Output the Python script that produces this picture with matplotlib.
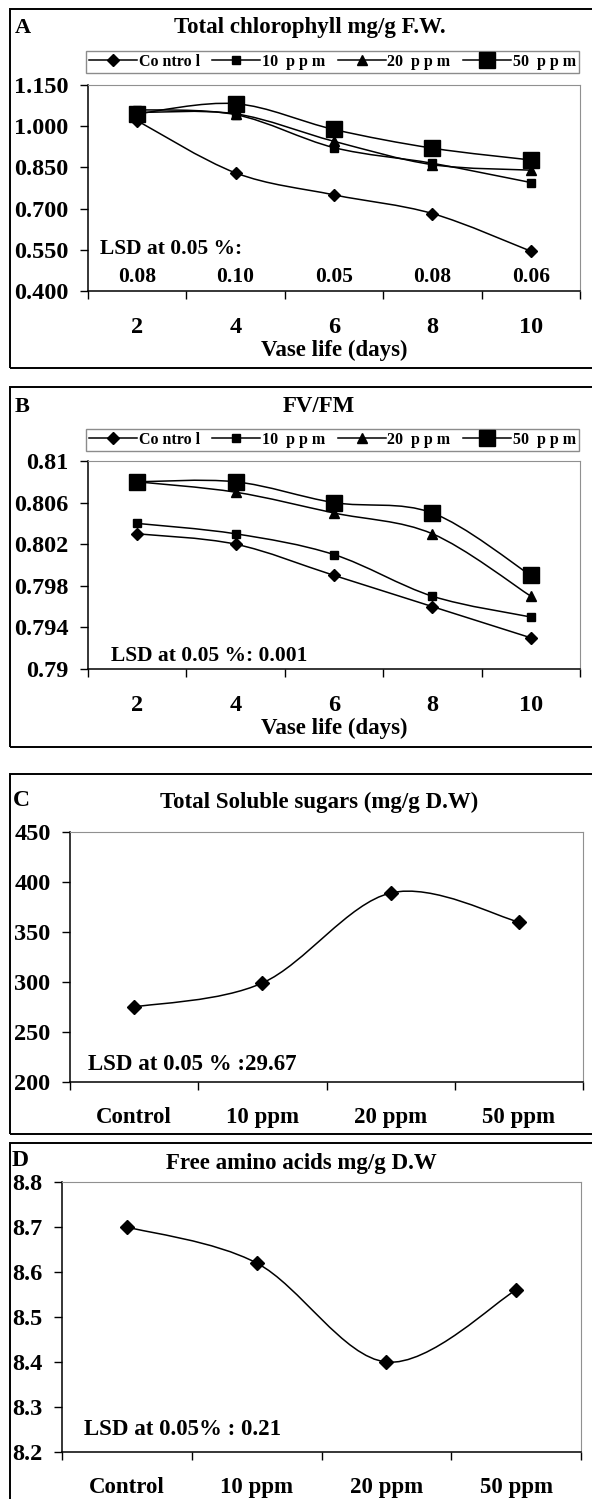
import numpy as np
import matplotlib
matplotlib.use("Agg")
import matplotlib.pyplot as plt
from matplotlib.path import Path
from matplotlib.patches import PathPatch, Rectangle
from matplotlib.lines import Line2D

plt.rcParams['font.family'] = ['Liberation Serif', 'DejaVu Serif']
plt.rcParams['font.weight'] = 'bold'

# --- data ---
days = ['2', '4', '6', '8', '10']
treatments = ['Control', '10 ppm', '20 ppm', '50 ppm']

chl_control = [1.020, 0.830, 0.750, 0.682, 0.545]
chl_10 = [1.060, 1.042, 0.922, 0.865, 0.795]
chl_20 = [1.050, 1.045, 0.945, 0.860, 0.840]
chl_50 = [1.045, 1.082, 0.988, 0.920, 0.877]
chl_lsd = ['0.08', '0.10', '0.05', '0.08', '0.06']

fv_control = [0.803, 0.802, 0.799, 0.796, 0.793]
fv_10 = [0.804, 0.803, 0.801, 0.797, 0.795]
fv_20 = [0.808, 0.807, 0.805, 0.803, 0.797]
fv_50 = [0.808, 0.808, 0.806, 0.805, 0.799]

sugars = [275, 299, 389, 360]
amino = [8.70, 8.62, 8.40, 8.56]

W, H = 592, 1499
fig = plt.figure(figsize=(W / 100, H / 100), dpi=100)

TICK_FS = 17.5
CAT_FS = 16.5


def px_axes(left, top, right, bottom):
    return fig.add_axes([left / W, 1 - bottom / H, (right - left) / W, (bottom - top) / H])


def panel_box(top, bottom):
    fig.patches.append(Rectangle((10 / W, 1 - bottom / H), (W + 5 - 10) / W, (bottom - top) / H,
                                 transform=fig.transFigure, fill=False, ec='black', lw=1.4))


def smooth_line(ax, y, color='black', lw=1.1):
    # Excel-like smoothed line: cubic bezier through the points
    x = np.arange(len(y), dtype=float)
    y = np.asarray(y, dtype=float)
    pts = np.column_stack([x, y])
    verts = [pts[0]]
    codes = [Path.MOVETO]
    n = len(pts)
    for i in range(n - 1):
        p0 = pts[max(i - 1, 0)]
        p1 = pts[i]
        p2 = pts[i + 1]
        p3 = pts[min(i + 2, n - 1)]
        c1 = p1 + (p2 - p0) / 6.0
        c2 = p2 - (p3 - p1) / 6.0
        verts += [c1, c2, p2]
        codes += [Path.CURVE4] * 3
    ax.add_patch(PathPatch(Path(verts, codes), fill=False, ec=color, lw=lw))


def style_axes(ax, cats, yticks, ylabels, x_fs, pad):
    n = len(cats)
    ax.set_xlim(-0.5, n - 0.5)
    ax.set_xticks(np.arange(n + 1) - 0.5)
    ax.set_xticklabels([''] * (n + 1))
    ax.set_xticks(np.arange(n), minor=True)
    ax.set_xticklabels(cats, minor=True, fontsize=x_fs, fontweight='bold')
    ax.tick_params(axis='x', which='major', direction='out', length=6, width=1)
    ax.tick_params(axis='x', which='minor', length=0, pad=pad)
    ax.set_ylim(yticks[0], yticks[-1])
    ax.set_yticks(yticks)
    ax.set_yticklabels(ylabels, fontsize=TICK_FS, fontweight='bold')
    ax.tick_params(axis='y', direction='out', length=6, width=1, pad=8)
    for s in ['top', 'right']:
        ax.spines[s].set_color('#909090')
    for s in ['left', 'bottom']:
        ax.spines[s].set_color('black')
        ax.spines[s].set_linewidth(1.1)


series_style = [
    ('Co ntro l', 'D', 6),
    ('10  p p m', 's', 6),
    ('20  p p m', '^', 7.5),
    ('50  p p m', 's', 11),
]


def line_panel(ax, data):
    for vals, (lab, mk, ms) in zip(data, series_style):
        smooth_line(ax, vals)
        ax.plot(np.arange(len(vals)), vals, linestyle='none', marker=mk, ms=ms,
                color='black', zorder=3)


def legend_at(top, bottom):
    handles = [Line2D([], [], color='black', lw=1.1, marker=mk, ms=ms)
               for lab, mk, ms in series_style]
    labels = [lab for lab, mk, ms in series_style]
    fig.legend(handles, labels, loc='lower left',
               bbox_to_anchor=(86 / W, 1 - bottom / H, (579 - 86) / W, (bottom - top) / H),
               mode='expand', ncol=4, frameon=True, fancybox=False,
               edgecolor='#707070', handlelength=3.0, handletextpad=0.1,
               columnspacing=0.2, borderpad=0.2, borderaxespad=0,
               prop={'weight': 'bold', 'size': 11.5})


# --- Panel A ---
panel_box(9, 368)
fig.text(15 / W, 1 - 28 / H, 'A', fontsize=16, fontweight='bold', va='center')
fig.text(310 / W, 1 - 28 / H, 'Total chlorophyll mg/g F.W.', fontsize=16.5,
         fontweight='bold', ha='center', va='center')
legend_at(45, 73)
axA = px_axes(88, 85, 580, 291)
line_panel(axA, [chl_control, chl_10, chl_20, chl_50])
yA = [0.400, 0.550, 0.700, 0.850, 1.000, 1.150]
style_axes(axA, days, yA, ['%.3f' % v for v in yA], TICK_FS, 19)
axA.text(-0.38, 0.553, 'LSD at 0.05 %:', fontsize=15.5, fontweight='bold', va='center')
for i, s in enumerate(chl_lsd):
    axA.text(i, 0.452, s, fontsize=15.5, fontweight='bold', ha='center', va='center')
axA.set_xlabel('Vase life (days)', fontsize=16.5, fontweight='bold', labelpad=1)

# --- Panel B ---
panel_box(387, 747)
fig.text(15 / W, 1 - 407 / H, 'B', fontsize=16, fontweight='bold', va='center')
fig.text(319 / W, 1 - 407 / H, 'FV/FM', fontsize=16.5, fontweight='bold',
         ha='center', va='center')
legend_at(424, 451)
axB = px_axes(88, 461, 580, 669)
line_panel(axB, [fv_control, fv_10, fv_20, fv_50])
yB = [0.790, 0.794, 0.798, 0.802, 0.806, 0.810]
style_axes(axB, days, yB, ['0.79', '0.794', '0.798', '0.802', '0.806', '0.81'], TICK_FS, 19)
axB.text(-0.27, 0.79125, 'LSD at 0.05 %: 0.001', fontsize=15.5, fontweight='bold', va='center')
axB.set_xlabel('Vase life (days)', fontsize=16.5, fontweight='bold', labelpad=1)

# --- Panel C ---
panel_box(774, 1134)
fig.text(13 / W, 1 - 800 / H, 'C', fontsize=17, fontweight='bold', va='center')
fig.text(319 / W, 1 - 802 / H, 'Total Soluble sugars (mg/g D.W)', fontsize=16.5,
         fontweight='bold', ha='center', va='center')
axC = px_axes(70, 832, 583, 1082)
smooth_line(axC, sugars)
axC.plot(np.arange(len(sugars)), sugars, linestyle='none', marker='D', ms=7, color='black', zorder=3)
yC = [200, 250, 300, 350, 400, 450]
style_axes(axC, treatments, yC, [str(v) for v in yC], CAT_FS, 18)
axC.text(-0.36, 217, 'LSD at 0.05 % :29.67', fontsize=16.5, fontweight='bold', va='center')

# --- Panel D ---
panel_box(1143, 1510)
fig.text(12 / W, 1 - 1160 / H, 'D', fontsize=17, fontweight='bold', va='center')
fig.text(301 / W, 1 - 1163 / H, 'Free amino acids mg/g D.W', fontsize=16.5,
         fontweight='bold', ha='center', va='center')
axD = px_axes(62, 1182, 581, 1452)
smooth_line(axD, amino)
axD.plot(np.arange(len(amino)), amino, linestyle='none', marker='D', ms=7, color='black', zorder=3)
yD = [8.2, 8.3, 8.4, 8.5, 8.6, 8.7, 8.8]
style_axes(axD, treatments, yD, ['%.1f' % v for v in yD], CAT_FS, 18)
axD.text(-0.33, 8.249, 'LSD at 0.05% : 0.21', fontsize=16.5, fontweight='bold', va='center')

fig.savefig('out.png', dpi=100)
